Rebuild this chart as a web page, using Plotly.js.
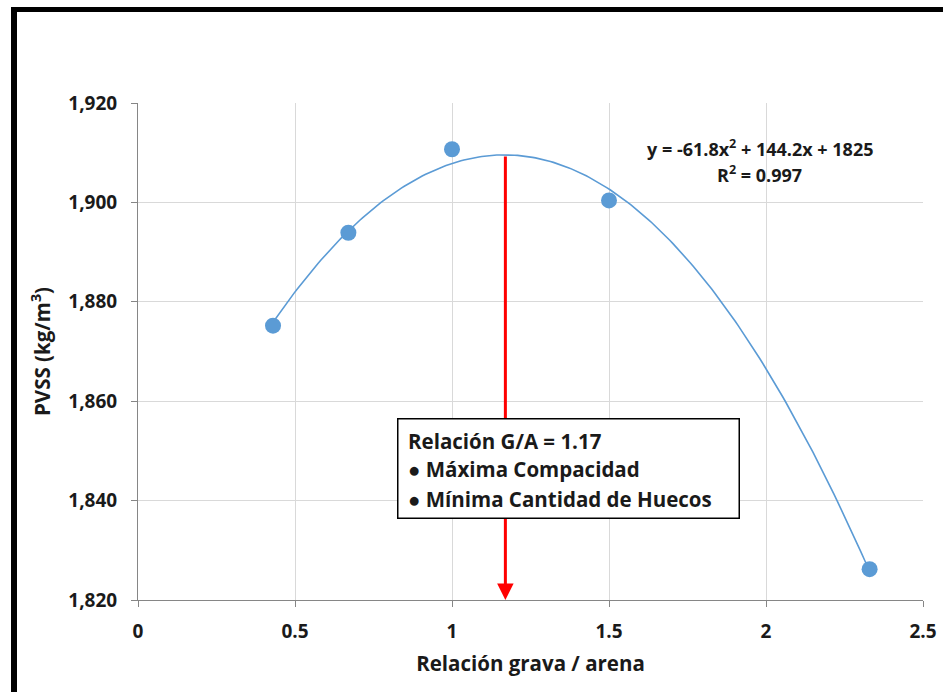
<!DOCTYPE html>
<html>
<head>
<meta charset="utf-8">
<script src="https://cdn.plot.ly/plotly-3.0.1.min.js"></script>
<style>
  html, body { margin:0; padding:0; background:#fff; }
  #wrap { position:relative; width:943px; height:692px; overflow:hidden; }
  #chart { position:absolute; left:0; top:0; width:943px; height:692px; }
  #frame { position:absolute; left:11px; top:7px; width:940px; height:700px;
           border-left:6px solid #000; border-top:5px solid #000; pointer-events:none; }
</style>
</head>
<body>
<div id="wrap">
  <div id="chart"></div>
  <div id="frame"></div>
</div>
<script>
// ---- data ----
const ratioGA = [0.43, 0.67, 1.0, 1.5, 2.33];          // Relación grava / arena
const pvss    = [1875.2, 1893.9, 1910.7, 1900.4, 1826.2]; // PVSS (kg/m3)
const optimumRatio = [1.17];
const xTickVals = [0, 0.5, 1, 1.5, 2, 2.5];
const xTickText = ['0', '0.5', '1', '1.5', '2', '2.5'];
const yTickVals = [1820, 1840, 1860, 1880, 1900, 1920];
const yTickText = ['1,820', '1,840', '1,860', '1,880', '1,900', '1,920'];
const eqLines = ['y = -61.8x<sup>2</sup> + 144.2x + 1825', 'R<sup>2</sup> = 0.997'];
const boxLines = ['Relación G/A = 1.17', '● Máxima Compacidad', '● Mínima Cantidad de Huecos'];

// ---- polynomial (order 2) least-squares trendline from the points ----
function polyfit2(xs, ys) {
  let S = [0,0,0,0,0], T = [0,0,0];
  for (let i = 0; i < xs.length; i++) {
    let p = 1;
    for (let k = 0; k < 5; k++) { S[k] += p; if (k < 3) T[k] += p * ys[i]; p *= xs[i]; }
  }
  const A = [[S[0],S[1],S[2],T[0]],[S[1],S[2],S[3],T[1]],[S[2],S[3],S[4],T[2]]];
  for (let c = 0; c < 3; c++) {
    for (let r = c + 1; r < 3; r++) {
      const f = A[r][c] / A[c][c];
      for (let k = c; k < 4; k++) A[r][k] -= f * A[c][k];
    }
  }
  const b = [0,0,0];
  for (let r = 2; r >= 0; r--) {
    let s = A[r][3];
    for (let k = r + 1; k < 3; k++) s -= A[r][k] * b[k];
    b[r] = s / A[r][r];
  }
  return b; // c0, c1, c2
}
const coef = polyfit2(ratioGA, pvss);
const fitY = x => coef[0] + coef[1] * x + coef[2] * x * x;
const xMin = Math.min(...ratioGA), xMax = Math.max(...ratioGA);
const trendX = [], trendY = [];
for (let i = 0; i <= 200; i++) { const x = xMin + (xMax - xMin) * i / 200; trendX.push(x); trendY.push(fitY(x)); }

const blue = '#5B9BD5';
const txt = '#1a1a1a';
const fontFam = '"Open Sans", "Noto Sans", sans-serif';

const traces = [
  { x: trendX, y: trendY, mode: 'lines', line: { color: blue, width: 1.6 }, hoverinfo: 'skip', showlegend: false },
  { x: ratioGA, y: pvss, mode: 'markers', marker: { color: blue, size: 16 }, showlegend: false }
];

const annotations = [
  // red arrow (drawn first so the text box covers it)
  { x: optimumRatio[0], y: 1820, xref: 'x', yref: 'y', axref: 'x', ayref: 'y',
    ax: optimumRatio[0], ay: fitY(optimumRatio[0]), showarrow: true, arrowhead: 2, arrowsize: 1.1,
    arrowwidth: 3, arrowcolor: '#ff0000', text: '' },
  // text box background/border
  { x: 0.826, y: 1856.6, xref: 'x', yref: 'y', xanchor: 'left', yanchor: 'top',
    text: ' ', showarrow: false, width: 340, height: 98, bgcolor: '#ffffff',
    bordercolor: '#000000', borderwidth: 1.5, borderpad: 0 },
  { x: 1.98, y: 1911.0, xref: 'x', yref: 'y', text: '<b>' + eqLines[0] + '</b>', showarrow: false,
    font: { family: fontFam, size: 18, color: txt }, xanchor: 'center', yanchor: 'middle' },
  { x: 1.98, y: 1905.8, xref: 'x', yref: 'y', text: '<b>' + eqLines[1] + '</b>', showarrow: false,
    font: { family: fontFam, size: 18, color: txt }, xanchor: 'center', yanchor: 'middle' }
];
const boxYs = [1852.0, 1846.4, 1840.4];
boxLines.forEach((t, i) => annotations.push({
  x: 0.853, y: boxYs[i], xref: 'x', yref: 'y', text: '<b>' + t + '</b>', showarrow: false,
  font: { family: fontFam, size: 20.5, color: txt }, xanchor: 'left', yanchor: 'middle'
}));

const layout = {
  width: 943, height: 692,
  margin: { l: 138, r: 20, t: 103, b: 92 },
  paper_bgcolor: '#ffffff', plot_bgcolor: '#ffffff',
  showlegend: false,
  font: { family: fontFam, color: txt },
  xaxis: {
    range: [0, 2.5], tickvals: xTickVals, ticktext: xTickText,
    showgrid: true, gridcolor: '#d9d9d9', gridwidth: 1, zeroline: false,
    showline: true, linecolor: '#868686', linewidth: 1,
    ticks: 'outside', ticklen: 6, tickcolor: '#868686', ticklabelstandoff: 8,
    tickfont: { family: fontFam, size: 19, color: txt, weight: 'bold' },
    title: { text: '<b>Relación grava / arena</b>', font: { family: fontFam, size: 20.5, color: txt }, standoff: 13 },
    automargin: false, fixedrange: true
  },
  yaxis: {
    range: [1820, 1920], tickvals: yTickVals, ticktext: yTickText,
    showgrid: true, gridcolor: '#d9d9d9', gridwidth: 1, zeroline: false,
    showline: true, linecolor: '#868686', linewidth: 1,
    ticks: 'outside', ticklen: 6, tickcolor: '#868686', ticklabelstandoff: 10,
    tickfont: { family: fontFam, size: 19, color: txt, weight: 'bold' },
    title: { text: '<b>PVSS (kg/m<sup>3</sup>)</b>', font: { family: fontFam, size: 20.5, color: txt }, standoff: 12 },
    automargin: false, fixedrange: true
  },
  annotations: annotations
};

Plotly.newPlot('chart', traces, layout, { displayModeBar: false, staticPlot: true });
</script>
</body>
</html>
